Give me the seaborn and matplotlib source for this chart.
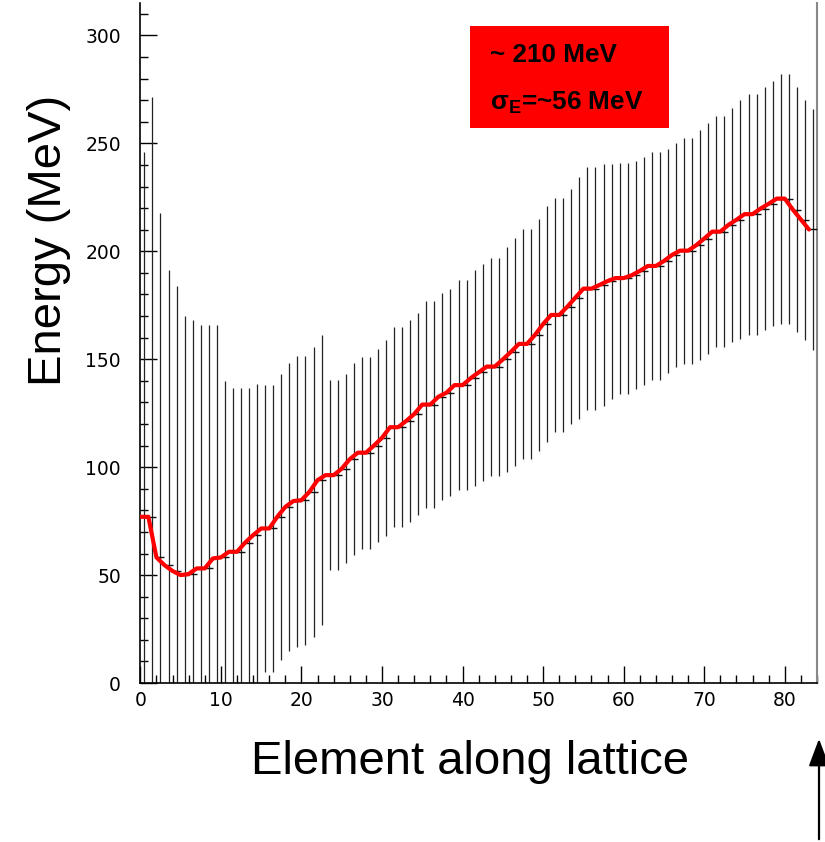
import matplotlib
matplotlib.use("Agg")
import matplotlib.pyplot as plt
import seaborn as sns
import numpy as np
import pandas as pd
from matplotlib.patches import Rectangle, FancyArrowPatch
from matplotlib.ticker import MultipleLocator

# ---- data ----
element = list(range(84))
energy_mean = [77.0, 77.0, 58.2, 54.6, 51.9, 50.0, 50.5, 53.1, 53.1, 57.7,
               58.2, 60.8, 60.8, 65.0, 68.5, 71.6, 71.6, 77.0, 81.6, 84.3,
               84.7, 88.6, 94.0, 96.3, 96.3, 99.3, 103.7, 106.7, 106.7, 110.0,
               113.6, 118.5, 118.5, 121.4, 124.6, 129.0, 129.0, 132.6, 134.5, 138.0,
               138.0, 141.2, 143.9, 146.6, 146.6, 149.9, 153.4, 157.1, 157.1, 161.3,
               166.3, 170.5, 170.5, 174.3, 178.5, 182.7, 182.7, 184.4, 186.2, 187.6,
               187.6, 188.9, 190.9, 193.2, 193.2, 195.5, 198.3, 200.3, 200.3, 202.8,
               205.9, 209.1, 209.1, 212.2, 214.6, 217.2, 217.2, 219.8, 222.0, 224.4,
               224.4, 219.3, 214.7, 210.1]
energy_sigma = [169.0, 194.3, 159.7, 136.6, 131.9, 119.9, 117.9, 112.6, 112.6, 108.0,
                81.6, 76.1, 76.1, 71.7, 69.8, 66.4, 66.4, 66.1, 66.7, 67.4,
                67.0, 67.1, 67.1, 44.0, 44.0, 43.9, 44.4, 44.4, 44.4, 44.6,
                45.5, 46.4, 46.4, 46.7, 46.8, 47.8, 47.8, 47.9, 47.9, 48.6,
                48.6, 50.0, 50.2, 50.5, 50.5, 52.1, 52.8, 53.1, 53.1, 53.8,
                54.6, 54.2, 54.2, 54.5, 56.0, 56.3, 56.3, 55.9, 54.4, 53.5,
                53.5, 52.9, 52.9, 52.6, 52.6, 52.1, 51.9, 52.3, 52.3, 53.3,
                53.7, 53.4, 53.4, 54.2, 55.3, 55.8, 55.8, 56.1, 56.7, 57.9,
                57.9, 56.9, 55.6, 55.6]
x_ticks = [0, 10, 20, 30, 40, 50, 60, 70, 80]
y_ticks = [0, 50, 100, 150, 200, 250, 300]
box_line1 = "~ 210 MeV"
box_line2 = r"$\mathbf{\sigma_{E}}$=~56 MeV"
xlabel = "Element along lattice"
ylabel = "Energy (MeV)"

df = pd.DataFrame({"element": element, "mean": energy_mean, "sigma": energy_sigma})
df["center"] = df["element"] + 0.5

sns.set_theme(style="ticks")
plt.rcParams["font.family"] = ["Liberation Sans", "DejaVu Sans"]
plt.rcParams["text.color"] = "black"
plt.rcParams["axes.labelcolor"] = "black"
plt.rcParams["mathtext.fontset"] = "custom"
plt.rcParams["mathtext.rm"] = "Liberation Sans"
plt.rcParams["mathtext.bf"] = "Liberation Sans:bold"
plt.rcParams["mathtext.it"] = "Liberation Sans:italic"

fig = plt.figure(figsize=(8.25, 8.42), dpi=100)
ax = fig.add_axes([0.1701, 0.1888, 0.8202, 0.8076])

# error bars at bin centres
ax.errorbar(df["center"], df["mean"], yerr=df["sigma"], fmt="none",
            ecolor="#222222", elinewidth=0.9, capsize=0, zorder=2)
sns.scatterplot(data=df, x="center", y="mean", marker="_", s=30,
                color="#111111", linewidth=1.0, ax=ax, zorder=3, legend=False)
# red mean curve
sns.lineplot(data=df, x="element", y="mean", color="#ff0000", linewidth=3.0,
             ax=ax, zorder=4, legend=False)

ax.set_xlim(0, 84)
ax.set_ylim(0, 315)
ax.xaxis.set_minor_locator(MultipleLocator(2))
ax.yaxis.set_minor_locator(MultipleLocator(10))
ax.set_yticks(y_ticks)
ax.set_xticks(x_ticks)
ax.set_yticklabels([str(v) for v in y_ticks], fontfamily="DejaVu Sans")
ax.set_xticklabels([str(v) for v in x_ticks], fontfamily="DejaVu Sans")
ax.tick_params(which="both", direction="in", top=False, right=False,
               colors="black", labelsize=13.5, labelcolor="black")
ax.tick_params(which="major", length=12, width=1.0)
ax.tick_params(which="minor", length=6, width=1.0)
ax.tick_params(axis="x", pad=6)
ax.tick_params(axis="y", pad=14)

for side in ["left", "bottom"]:
    ax.spines[side].set_color("black")
    ax.spines[side].set_linewidth(1.2)
ax.spines["right"].set_color("#888888")
ax.spines["right"].set_linewidth(1.5)
ax.spines["top"].set_visible(False)

ax.set_xlabel("")
ax.set_ylabel("")
fig.text(0.57, 0.095, xlabel, fontsize=34, ha="center", va="center", color="black")
fig.text(0.06, 0.715, ylabel, fontsize=34, ha="center", va="center",
         rotation=90, color="black")

# red annotation box
ax.add_patch(Rectangle((0.487, 0.816), 0.295, 0.150, transform=ax.transAxes,
                       facecolor="#ff0000", edgecolor="none", zorder=5))
ax.text(0.517, 0.9235, box_line1, transform=ax.transAxes, fontsize=18.8,
        fontweight="bold", ha="left", va="center", color="black", zorder=6)
ax.text(0.517, 0.853, box_line2, transform=ax.transAxes, fontsize=18.8,
        fontweight="bold", ha="left", va="center", color="black", zorder=6)

# arrow at the bottom right
fig.add_artist(FancyArrowPatch(
    (819 / 825, 0.0), (819 / 825, 1 - 736 / 842), transform=fig.transFigure,
    arrowstyle="-|>,head_length=1.2,head_width=0.45", mutation_scale=14,
    color="black", linewidth=1.6))

fig.savefig("out.png", dpi=100)
